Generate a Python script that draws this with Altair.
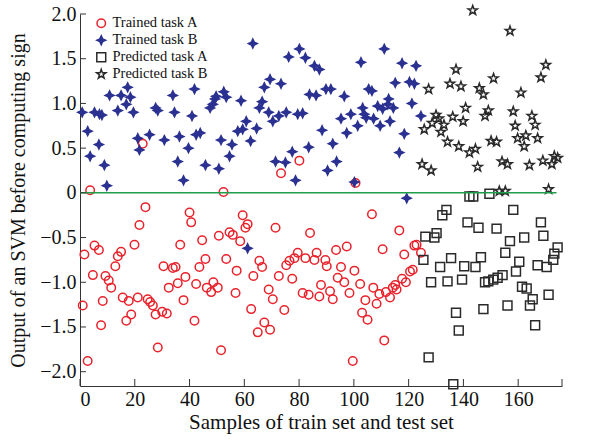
import altair as alt
import pandas as pd

series_names = ["Trained task A", "Trained task B", "Predicted task A", "Predicted task B"]

trained_a = [(3.7,0.03),(22.9,0.55),(52.4,0.01),(73.4,0.22),(80.1,0.36),(100.6,0.11),
(23.9,-0.16),(21.7,-0.36),(40,-0.22),(40.6,-0.33),(59.4,-0.25),(60.4,-0.39),(61.2,-0.35),(5.3,-0.59),(1.6,-0.69),(6.9,-0.64),(19.9,-0.58),(15,-0.66),(13.8,-0.71),(12.9,-0.82),(4.7,-0.92),(9.3,-0.93),(10.5,-0.98),(11.4,-1.06),(1,-1.26),(8.3,-1.21),(15.6,-1.17),(17.8,-1.21),(21.1,-1.17),(18.7,-1.36),(16.9,-1.43),(7.7,-1.48),(2.8,-1.88),(28.4,-1.73),(24.7,-1.19),(25.6,-1.22),(26.6,-1.26),(27.6,-1.36),(30,-1.33),(31.7,-1.35),(30.5,-0.82),(33.9,-0.84),(34.9,-0.83),(32.4,-1.06),(35.7,-1.01),(38.5,-0.94),(37.8,-1.20),(36.6,-0.58),(41.8,-1.43),(42.4,-1.02),(43.6,-0.83),(44.6,-0.53),(45.8,-0.74),(46.3,-1.06),(47.9,-1.11),(48.7,-1.00),(50.3,-1.06),(50.7,-0.48),(51.5,-1.76),(53.4,-0.74),(54.6,-0.44),(55.8,-0.47),(57.2,-0.87),(56.8,-1.12),(58.5,-0.54),(62.5,-1.30),
(71.4,-0.39),(84,-0.45),(106.6,-0.24),(116.6,-0.42),(97.4,-0.60),(93.5,-0.64),(110.5,-0.63),(86.4,-0.67),(79.5,-0.67),(82.3,-0.73),(85.6,-0.75),(89.6,-0.75),(90.1,-0.82),(78.3,-0.73),(76.5,-0.76),(75.3,-0.81),(65.5,-0.76),(66.5,-0.83),(63.3,-0.93),(72.6,-0.93),(77.5,-0.96),(95.3,-0.83),(100.2,-0.87),(94.1,-0.95),(96.5,-1.00),(102.3,-1.02),(88,-1.03),(91.3,-1.10),(81.3,-1.12),(83.5,-1.14),(87.4,-1.16),(92.3,-1.19),(98.4,-1.12),(68.9,-1.08),(70.4,-1.19),(74.6,-1.31),(67.3,-1.45),(64.9,-1.56),(69.4,-1.53),(99.6,-1.88),(107.1,-1.06),(104.2,-1.20),(103,-1.34),(105,-1.42),(108.3,-1.24),(109.3,-1.13),(111.1,-1.65),(111.7,-1.11),(113.2,-1.17),(114.2,-1.06),(115.1,-1.03),(115.6,-1.08),(117.6,-0.96),(119,-1.00),(120.5,-0.88),(121.5,-0.86),(118.4,-0.69),(122.1,-0.59),(122.9,-0.58),(124.5,-0.67)]

trained_b = [(0.8,0.90),(2.8,0.69),(3.7,0.41),(5.3,0.90),(7.1,0.88),(8,0.87),(6.9,0.54),(8.9,0.31),(9.8,0.08),(10.8,1.09),(13.8,0.92),(15,1.09),(16.9,0.99),(17.4,1.18),(18.4,1.07),(19.5,0.90),(21.1,0.61),(21.7,0.48),(25.4,0.65),(27.6,0.95),(28.4,0.92),(30.8,0.59),(33.9,1.09),(34.5,0.90),(35.7,0.35),(37.8,0.14),(36.3,0.63),(39.6,0.50),(40.9,0.86),(41.8,1.16),(42.4,0.65),(43.9,0.67),(45.8,0.31),(47.5,0.95),(48.5,0.99),(49.3,1.05),(49.7,1.08),(50.7,0.27),(51.5,0.59),(52.5,1.13),(53.4,1.07),(54.6,0.41),(55.5,0.54),(57.6,0.69),(58.8,1.03),(59.4,0.71),(60.7,0.80),(62.3,0.58),
(63.1,1.67),(76.2,1.52),(80.1,1.61),(82.3,1.51),(85.6,1.42),(87.4,1.38),(69.4,1.27),(67.3,1.18),(73.4,1.22),(66.5,1.02),(65.5,0.95),(68.9,0.90),(64.5,0.72),(70.4,0.80),(72.6,0.86),(75.3,0.90),(79.5,0.88),(81.3,0.89),(83.8,1.10),(86.2,1.09),(89.8,1.16),(91.6,1.16),(96.5,1.08),(102.6,1.46),(111.1,1.61),(117.6,1.45),(122.7,1.42),(115.1,1.23),(120.3,1.24),(122.1,1.22),(105.4,1.16),(106.6,1.14),(112.7,1.05),(112.4,0.99),(108.7,0.97),(110.5,0.94),(114.4,0.95),(121.2,1.00),(103.2,0.95),(103.8,0.88),(98.9,0.88),(95.3,0.83),(104.5,0.84),(107.2,0.83),(113.2,0.80),(109.6,0.75),(101.4,0.75),(97.4,0.67),(88.4,0.70),(92.3,0.55),(83.5,0.51),(77.5,0.46),(118.4,0.66),(116.6,0.45),(71.4,0.35),(75,0.34),(93.7,0.35),(90.4,0.25),(78.7,0.14),(100.2,0.12),(119.3,-0.06),(61.2,-0.62),(124.5,0.86)]

predicted_a = [(142.2,-0.04),(143.6,-0.04),(149.5,-0.01),(133.8,-0.19),(132.3,-0.25),(158.2,-0.19),(141.5,-0.33),(145.5,-0.39),(152.1,-0.40),(168.3,-0.33),(169.2,-0.48),(126.1,-0.49),(129.4,-0.50),(130.2,-0.45),(162.2,-0.50),(157,-0.54),(155.3,-0.67),(125.4,-0.75),(135.5,-0.73),(146.4,-0.72),(131.5,-0.83),(140.3,-0.82),(144.4,-0.83),(160.4,-0.77),(159.2,-0.88),(167.1,-0.81),(170.4,-0.83),(172.8,-0.75),(173.2,-0.68),(174.4,-0.61),(128.2,-1.00),(134.2,-0.99),(139.5,-0.97),(147.9,-1.00),(149.1,-0.99),(150.9,-0.97),(152.5,-0.95),(154.3,-0.92),(161.4,-1.05),(163.1,-1.07),(165.3,-1.19),(171.1,-1.14),(164.3,-1.26),(156.1,-1.26),(147.3,-1.30),(137.3,-1.34),(166.2,-1.48),(138.3,-1.54),(127.3,-1.84),(136.3,-2.14)]

predicted_b = [(143.4,2.04),(157,1.81),(170.1,1.43),(168.3,1.29),(137.3,1.38),(151,1.28),(127.3,1.16),(135.1,1.22),(139.1,1.19),(145.8,1.17),(147.3,1.10),(161,1.12),(140.8,0.95),(149.1,0.92),(147.9,0.86),(158.2,0.91),(165,0.86),(166.2,0.76),(130,0.87),(131,0.83),(136.1,0.85),(128.6,0.78),(132.9,0.76),(139.9,0.80),(125.7,0.71),(131.8,0.68),(158.9,0.75),(159.8,0.61),(162.8,0.64),(167.1,0.61),(162.2,0.52),(134.2,0.57),(138.3,0.52),(142.2,0.45),(144.4,0.49),(150.1,0.58),(152.1,0.57),(124.9,0.32),(128.2,0.25),(145.2,0.29),(154.1,0.35),(156.1,0.32),(164.1,0.31),(169,0.36),(172.3,0.32),(173.2,0.41),(174.4,0.39),(171.1,0.04),(153.1,0.02),(155.3,0.02)]

x_tick_values = [0, 20, 40, 60, 80, 100, 120, 140, 160]
y_tick_values = [-2.0, -1.5, -1.0, -0.5, 0.0, 0.5, 1.0, 1.5, 2.0]
zero_line = {"x": [0], "x2": [174], "y": [0]}

rows = []
for name, pts in zip(series_names, [trained_a, trained_b, predicted_a, predicted_b]):
    for px, py in pts:
        rows.append({"x": px, "y": py, "series": name})
df = pd.DataFrame(rows)

W, H = 482, 372
FONT = "Liberation Serif"
XT = "Samples of train set and test set"
YT = "Output of an SVM before computing sign"
xscale = alt.Scale(domain=[0, 176], nice=False, zero=False)
yscale = alt.Scale(domain=[-2.16, 2.0], nice=False, zero=False)

star4 = "M0,-1.05 L0.34,-0.34 L1.05,0 L0.34,0.34 L0,1.05 L-0.34,0.34 L-1.05,0 L-0.34,-0.34 Z"
star5 = ("M0,-1.15 L0.27,-0.37 L1.09,-0.36 L0.44,0.14 L0.68,0.93 L0,0.46 "
         "L-0.68,0.93 L-0.44,0.14 L-1.09,-0.36 L-0.27,-0.37 Z")
square = "M-1.05,-1.05 L1.05,-1.05 L1.05,1.05 L-1.05,1.05 Z"

points = alt.Chart(df).mark_point(filled=True, opacity=1, strokeWidth=1.5, size=72, clip=False).encode(
    x=alt.X("x:Q", scale=xscale, title=XT,
            axis=alt.Axis(values=x_tick_values, ticks=False, grid=False, labelPadding=3,
                          titlePadding=2, labelFontSize=20, titleFontSize=21)),
    y=alt.Y("y:Q", scale=yscale, title=YT,
            axis=alt.Axis(values=y_tick_values, ticks=False, grid=False, labelPadding=4,
                          titlePadding=11, labelFontSize=20, titleFontSize=20,
                          labelExpr="datum.value == 0 ? '0' : replace(format(datum.value, '.1f'), '-', '\u2212')")),
    shape=alt.Shape("series:N", title=None,
                    scale=alt.Scale(domain=series_names, range=["circle", star4, square, star5])),
    stroke=alt.Stroke("series:N", title=None,
                      scale=alt.Scale(domain=series_names, range=["#e8222b", "#2b3191", "#2a2a2a", "#2a2a2a"])),
    fill=alt.Fill("series:N", title=None,
                  scale=alt.Scale(domain=series_names, range=["transparent", "#2b3191", "transparent", "transparent"])),
)

zline = alt.Chart(pd.DataFrame(zero_line)).mark_rule(color="#1f9e4a", strokeWidth=1.5).encode(
    x=alt.X("x:Q", scale=xscale, title=XT), x2="x2:Q", y=alt.Y("y:Q", scale=yscale, title=YT)
)

xt = alt.Chart(pd.DataFrame({"x": x_tick_values + [176]})).mark_rule(color="#333333", strokeWidth=1).encode(
    x=alt.X("x:Q", scale=xscale, title=XT), y=alt.value(H), y2=alt.value(H - 7)
)
yt = alt.Chart(pd.DataFrame({"y": y_tick_values})).mark_rule(color="#333333", strokeWidth=1).encode(
    y=alt.Y("y:Q", scale=yscale, title=YT), x=alt.value(0), x2=alt.value(6)
)

chart = alt.layer(points, zline, xt, yt).properties(
    width=W, height=H,
    autosize=alt.AutoSizeParams(type="none"),
    padding={"left": 80, "top": 14, "right": 42, "bottom": 57},
).configure_view(stroke=None).configure_axis(
    labelFont=FONT, titleFont=FONT, labelColor="#111111", titleColor="#111111",
    domainColor="#333333", titleFontWeight="normal",
).configure_legend(
    orient="none", legendX=14, legendY=2, labelFont=FONT, labelFontSize=14.5,
    labelColor="#111111", symbolSize=72, symbolStrokeWidth=1.5, rowPadding=1, padding=0,
)

chart.save("out.html", embed_options={"renderer": "svg", "actions": False})
